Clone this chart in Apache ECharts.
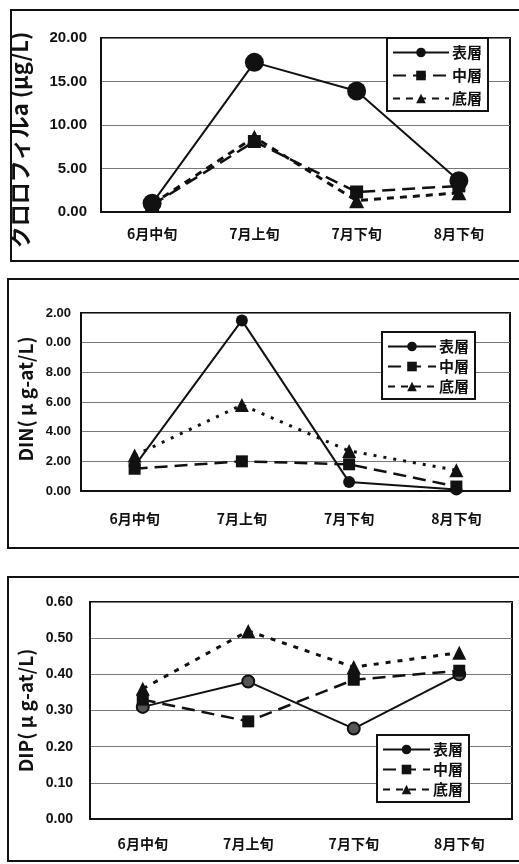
<!DOCTYPE html>
<html><head><meta charset="utf-8">
<script src="https://cdn.jsdelivr.net/npm/echarts@6/dist/echarts.min.js"></script>
<style>html,body{margin:0;padding:0;background:#fff}#c{width:519px;height:864px}</style>
</head><body><div id="c"></div>
<script>
const categories = ['6月中旬','7月上旬','7月下旬','8月下旬'];
const seriesNames = ['表層','中層','底層'];
const chlSurface = [1.0, 17.2, 13.9, 3.6];
const chlMiddle  = [0.8, 8.1, 2.3, 3.0];
const chlBottom  = [0.9, 8.6, 1.3, 2.2];
const dinSurface = [1.7, 11.5, 0.6, 0.1];
const dinMiddle  = [1.5, 2.0, 1.8, 0.3];
const dinBottom  = [2.4, 5.8, 2.7, 1.4];
const dipSurface = [0.31, 0.38, 0.25, 0.40];
const dipMiddle  = [0.33, 0.27, 0.385, 0.41];
const dipBottom  = [0.36, 0.52, 0.42, 0.46];
const chlTicks = ['0.00','5.00','10.00','15.00','20.00'];
const dinTicks = ['0.00','2.00','4.00','6.00','8.00','0.00','2.00'];
const dipTicks = ['0.00','0.10','0.20','0.30','0.40','0.50','0.60'];
const chlName = 'クロロフィルa (μg/L)';
const dinName = 'DIN( μ g-at/L)';
const dipName = 'DIP( μ g-at/L)';

const INK = '#111';
const NUM = 'Liberation Sans, Arial, sans-serif';
const CJK = '"Noto Sans CJK JP", sans-serif';

const grids = [
  {left:101, top:38, width:409, height:174},
  {left:81, top:313, width:429, height:178},
  {left:90, top:602, width:422, height:217}
];
const yDefs = [
  {max:20, interval:5, ticks:chlTicks, name:chlName, gap:70, nameSize:22, margin:14, tick:15, pad:[0,30,0,0]},
  {max:12, interval:2, ticks:dinTicks, name:dinName, gap:44, nameSize:19, margin:10, tick:13, pad:[0,0,0,6]},
  {max:0.6, interval:0.1, ticks:dipTicks, name:dipName, gap:52, nameSize:19, margin:17, tick:14, pad:[0,0,0,0]}
];
const catMargins = [15, 21, 18];
const data = [
  [chlSurface, chlMiddle, chlBottom],
  [dinSurface, dinMiddle, dinBottom],
  [dipSurface, dipMiddle, dipBottom]
];
const symSizes = [[19,13,15],[12,12,14],[12,12,14]];
const bottomDash = [[7,6],[3,7],[5,7]];

const option = {
  animation:false,
  backgroundColor:'#fff',
  grid: grids.map(g => Object.assign({show:true, borderColor:INK, borderWidth:2, backgroundColor:'transparent', containLabel:false, outerBoundsMode:'none'}, g)),
  xAxis: grids.map((g,i) => ({
    type:'category', gridIndex:i, data:categories, boundaryGap:true,
    axisLine:{show:true, lineStyle:{color:INK, width:2}},
    axisTick:{show:false},
    axisLabel:{color:INK, fontFamily:CJK, fontWeight:'bold', fontSize:14, margin:catMargins[i]}
  })),
  yAxis: yDefs.map((d,i) => ({
    type:'value', gridIndex:i, min:0, max:d.max, interval:d.interval,
    name:d.name, nameLocation:'middle', nameRotate:90, nameGap:d.gap,
    nameTextStyle:{color:INK, fontFamily:CJK, fontWeight:'bold', fontSize:d.nameSize, padding:d.pad},
    axisLine:{show:true, lineStyle:{color:INK, width:2}},
    axisTick:{show:false},
    splitLine:{show:true, lineStyle:{color:'#777', width:1.2}},
    axisLabel:{color:INK, fontFamily:NUM, fontWeight:'bold', fontSize:d.tick, margin:d.margin,
      formatter:(v) => d.ticks[Math.round(v/d.interval)]}
  })),
  legend: [
    {left:387, top:38},
    {left:382, top:332},
    {left:377, top:735}
  ].map((l,i) => ({
    left:l.left, top:l.top, orient:'vertical', data:seriesNames,
    itemWidth:[56,48,47][i], itemHeight:12, itemGap:[8,5,5][i],
    padding:[7,6,5,5], borderColor:INK, borderWidth:2, backgroundColor:'#fff',
    textStyle:{color:INK, fontFamily:CJK, fontWeight:'bold', fontSize:15, padding:[0,0,0,-2]},
    selectedMode:false
  })),
  graphic: [
    {type:'rect', shape:{x:11, y:10, width:520, height:251}, style:{fill:'none', stroke:INK, lineWidth:2}, z:-1},
    {type:'rect', shape:{x:8, y:279, width:520, height:269}, style:{fill:'none', stroke:INK, lineWidth:2}, z:-1},
    {type:'rect', shape:{x:8, y:577, width:520, height:284}, style:{fill:'none', stroke:INK, lineWidth:2}, z:-1}
  ],
  series: []
};
for (let p = 0; p < 3; p++) {
  const [s, m, b] = data[p];
  option.series.push({
    name:'表層', type:'line', xAxisIndex:p, yAxisIndex:p, data:s,
    symbol:'circle', symbolSize:symSizes[p][0],
    lineStyle:{color:INK, width:2, type:'solid'},
    itemStyle:{color:p===2?'#555':INK, borderColor:INK, borderWidth:p===2?2:0}, z:3
  });
  option.series.push({
    name:'中層', type:'line', xAxisIndex:p, yAxisIndex:p, data:m,
    symbol:'rect', symbolSize:symSizes[p][1],
    lineStyle:{color:INK, width:2.5, type:[13,7]},
    itemStyle:{color:INK}, z:4
  });
  option.series.push({
    name:'底層', type:'line', xAxisIndex:p, yAxisIndex:p, data:b,
    symbol:'triangle', symbolSize:symSizes[p][2],
    lineStyle:{color:INK, width:3, type:bottomDash[p]},
    itemStyle:{color:INK}, z:2
  });
}
const chart = echarts.init(document.getElementById('c'), null, {renderer:'canvas'});
chart.setOption(option);
</script></body></html>
